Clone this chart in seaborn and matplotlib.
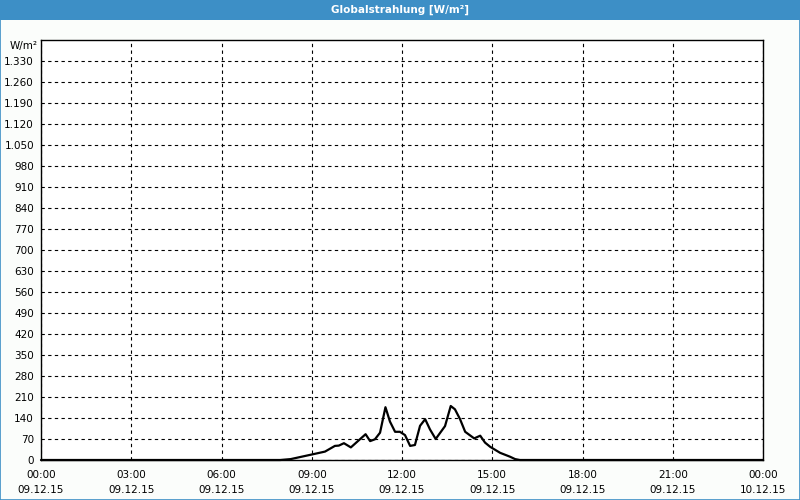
import matplotlib
matplotlib.use("Agg")
import matplotlib.pyplot as plt
import matplotlib.patches as mpatches
import seaborn as sns
import pandas as pd
import numpy as np

# time of day in hours, irradiance in W/m²
hours = [0.0, 7.95, 8.3, 8.94, 9.44, 9.77, 9.9, 10.07, 10.3, 10.79, 10.94, 11.1, 11.27,
         11.45, 11.6, 11.77, 11.93, 12.1, 12.27, 12.43, 12.6, 12.77, 12.93, 13.12,
         13.43, 13.62, 13.76, 13.93, 14.1, 14.4, 14.6, 14.76, 14.93, 15.26, 15.59,
         15.76, 15.92, 24.0]
watts = [0, 0, 3, 17, 28, 47, 48, 56, 42, 86, 63, 69, 91,
         176, 128, 94, 94, 83, 47, 50, 114, 136, 102, 70,
         113, 180, 169, 136, 94, 72, 81, 58, 44, 24, 11,
         3, 0, 0]

x_ticks = list(range(0, 25, 3))
x_labels = ["00:00\n09.12.15", "03:00\n09.12.15", "06:00\n09.12.15", "09:00\n09.12.15",
            "12:00\n09.12.15", "15:00\n09.12.15", "18:00\n09.12.15", "21:00\n09.12.15",
            "00:00\n10.12.15"]
y_ticks = list(range(0, 1331, 70))
y_labels = [f"{v:,}".replace(",", ".") for v in y_ticks]

df = pd.DataFrame({"hour": hours, "watt": watts})

sns.set_style("white")
plt.rcParams["font.family"] = ["DejaVu Sans"]
plt.rcParams["text.color"] = "black"
plt.rcParams["xtick.color"] = "black"
plt.rcParams["ytick.color"] = "black"

fig = plt.figure(figsize=(8, 5), dpi=100, facecolor="#fbfdfb")
ax = fig.add_axes([41 / 800, 40 / 500, 722 / 800, 420 / 500])
ax.set_facecolor("white")

sns.lineplot(df, x="hour", y="watt", ax=ax, color="black", linewidth=1.6, zorder=3)
for ln in ax.get_lines():
    ln.set_clip_on(False)

ax.set_xlim(0, 24)
ax.set_ylim(0, 1400)
ax.set_xticks(x_ticks)
ax.set_xticklabels(x_labels, fontsize=7.5, linespacing=1.7)
ax.set_xticks(range(0, 25), minor=True)
ax.set_yticks(y_ticks)
ax.set_yticklabels(y_labels, fontsize=7.5)
ax.set_xlabel("")
ax.set_ylabel("")

ax.grid(True, which="major", color="black", linestyle=(0, (3, 3)), linewidth=0.8)
ax.tick_params(axis="x", which="both", direction="out", length=3, color="black", pad=4)
ax.tick_params(axis="y", which="both", direction="out", length=3, color="black", pad=2)
for s in ax.spines.values():
    s.set_color("black")
    s.set_linewidth(1.0)

ax.text(-0.004, 1.0 - 6 / 420, "W/m²", transform=ax.transAxes, ha="right", va="center",
        fontsize=7.5)

# title bar and frame
fig.patches.append(mpatches.Rectangle((0, 0.96), 1, 0.04, transform=fig.transFigure,
                                      facecolor="#3d8fc6", edgecolor="none", zorder=0))
fig.patches.append(mpatches.Rectangle((0.0006, 0.001), 0.9988, 0.998, transform=fig.transFigure,
                                      facecolor="none", edgecolor="#3d8fc6", linewidth=1.2, zorder=0))
fig.text(0.5, 0.98, "Globalstrahlung [W/m²]", color="white", ha="center", va="center",
         fontsize=7.5, fontweight="bold")

fig.savefig("out.png", dpi=100, facecolor=fig.get_facecolor())
